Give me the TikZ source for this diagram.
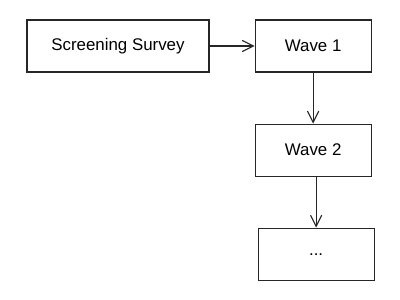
\documentclass[tikz,border=0pt]{standalone}
\usepackage{fontspec}
\setmainfont{Liberation Sans}
\usetikzlibrary{arrows.meta,positioning}

\begin{document}
\begin{tikzpicture}[
  font=\fontsize{12}{14}\selectfont,
  node distance=1.275cm and 1.125cm,
  % -- survey step box --
  wavebox/.style={
    draw=black!85, line width=0.8pt,
    minimum width=2.9cm, minimum height=1.3cm,
    align=center, inner sep=2pt
  },
  % -- arrows --
  arr/.style={-{Straight Barb[length=2.8mm,width=2.8mm]}, draw=black!85, line width=0.8pt},
]
\useasboundingbox (0,0) rectangle (10,-7.475);

%% -- Screening and waves --
\node[wavebox, minimum width=4.55cm] (SCR) at (2.95,-1.15) {Screening Survey};
\node[wavebox] (W1)  [right=of SCR] {Wave 1};
\node[wavebox] (W2)  [below=of W1]  {Wave 2};
\node[wavebox] (ETC) [below=of W2, xshift=0.075cm] {...};

%% -- Arrows --
\draw[arr] (SCR) -- (W1);
\draw[arr] (W1)  -- (W2);
\draw[arr] (ETC.north |- W2.south) -- (ETC.north);

\end{tikzpicture}
\end{document}
